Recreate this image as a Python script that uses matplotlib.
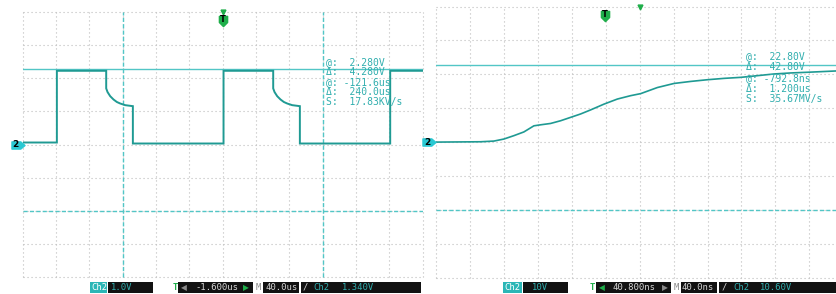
import matplotlib
matplotlib.use("Agg")
import matplotlib.pyplot as plt
import matplotlib.transforms as mtrans
from matplotlib.path import Path
from matplotlib.patches import Rectangle

# ---------------- data ----------------
# Left capture: Ch2 1.0 V/div, 40 us/div, trigger offset -1.6 us (time relative to trigger)
left_t_us = [-241.6, -200.6, -200.6, -141.4, -141.4, -139.8, -136.6, -132.6, -128.6,
             -124.6, -118.6, -109.4, -109.4, -0.6, -0.6, 59.0, 59.0, 60.6, 63.8, 67.8,
             71.8, 75.8, 81.8, 91.0, 91.0, 199.4, 199.4, 238.4]
left_v = [0.06, 0.06, 2.22, 2.22, 1.69, 1.58, 1.455, 1.355, 1.28,
          1.235, 1.185, 1.155, 0.03, 0.03, 2.22, 2.22, 1.69, 1.58, 1.455, 1.355,
          1.28, 1.235, 1.185, 1.155, 0.03, 0.03, 2.22, 2.22]
left_cursor_v = [2.28, -2.0]          # @ 2.280V, delta 4.280V
left_cursor_t = [-121.6, 118.4]       # @ -121.6us, delta 240.0us
left_meas = ["@:  2.280V", "Δ:  4.280V", "@: -121.6us", "Δ:  240.0us", "S:  17.83KV/s"]

# Right capture: Ch2 10 V/div, 40 ns/div, trigger offset 40.8 ns
right_t_ns = [-199.3, -146.8, -131.1, -119.3, -107.5, -95.7, -83.9, -76.0, -64.2, -52.4,
              -40.6, -28.8, -17.0, -1.3, 14.5, 30.2, 42.0, 61.7, 81.3, 101.0,
              120.7, 140.3, 160.0, 179.7, 199.3, 219.0, 238.7, 273.7]
right_v = [0.0, 0.1, 0.3, 0.9, 1.9, 3.0, 4.8, 5.1, 5.5, 6.3,
           7.3, 8.3, 9.5, 11.2, 12.7, 13.7, 14.3, 16.1, 17.3, 17.9,
           18.4, 18.8, 19.1, 19.6, 20.1, 20.4, 20.6, 21.0]
right_cursor_v = [22.8, -20.0]
right_meas = ["@:  22.80V", "Δ:  42.80V", "@: -792.8ns", "Δ:  1.200us", "S:  35.67MV/s"]

# ---------------- style ----------------
W, H = 836, 294
GRID = "#bdbdbd"
CUR = "#52c6c6"
TRACE = "#1f9a93"
TXT = "#30aeae"
GREEN = "#1fae4a"
CYAN = "#29c8d2"
MONO = "DejaVu Sans Mono"

fig = plt.figure(figsize=(W / 100, H / 100), dpi=100)
fig.patch.set_facecolor("white")


def px_axes(x0, x1, y0, y1):
    return fig.add_axes([x0 / W, (H - y1) / H, (x1 - x0) / W, (y1 - y0) / H])


axL = px_axes(22.7, 422.7, 11.7, 277.3)
axR = px_axes(436, 842, 6.5, 277.7)

T_PATH = Path([(-0.8, 1), (0.8, 1), (0.8, -0.2), (0, -1), (-0.8, -0.2), (-0.8, 1)],
              [Path.MOVETO, Path.LINETO, Path.LINETO, Path.LINETO, Path.LINETO, Path.CLOSEPOLY])
CH_PATH = Path([(-1, 0.55), (0.35, 0.55), (1, 0), (0.35, -0.55), (-1, -0.55), (-1, 0.55)],
               [Path.MOVETO, Path.LINETO, Path.LINETO, Path.LINETO, Path.LINETO, Path.CLOSEPOLY])


def setup(ax, xlim, ydiv, xdiv, center):
    ax.set_axis_off()
    ax.set_xlim(*xlim)
    ax.set_ylim(-4 * ydiv, 4 * ydiv)
    for i in range(-6, 7):
        ax.axvline(center + i * xdiv, color=GRID, lw=0.8, ls=(0, (1, 2.6)), zorder=1, clip_on=False)
    for j in range(-4, 5):
        ax.axhline(j * ydiv, color=GRID, lw=0.8, ls=(0, (1, 2.6)), zorder=1, clip_on=False)


# ---- left panel ----
setup(axL, (-241.6, 238.4), 1.0, 40.0, -1.6)
axL.axhline(left_cursor_v[0], color=CUR, lw=1.0, zorder=2)
axL.axhline(left_cursor_v[1], color=CUR, lw=1.0, ls=(0, (3, 1.6)), zorder=2)
for t in left_cursor_t:
    axL.axvline(t, color=CUR, lw=1.0, ls=(0, (3, 1.6)), zorder=2, clip_on=False)
axL.plot(left_t_us, left_v, color=TRACE, lw=1.4, zorder=3, solid_joinstyle="miter")

# ---- right panel ----
setup(axR, (-199.3, 279.3), 10.0, 40.0, 40.8)
axR.axhline(right_cursor_v[0], color=CUR, lw=1.0, zorder=2)
axR.axhline(right_cursor_v[1], color=CUR, lw=1.0, ls=(0, (3, 1.6)), zorder=2)
axR.plot(right_t_ns, right_v, color=TRACE, lw=1.2, zorder=3)

# ---- trigger markers ----
for ax, tpos, cen in [(axL, -1.6, -1.6), (axR, 0.0, 40.8)]:
    tr = ax.get_xaxis_transform()
    ax.plot([tpos], [0.966], marker=T_PATH, ms=7.4, color=GREEN, transform=tr,
            clip_on=False, ls="none", zorder=6)
    ax.text(tpos, 0.972, "T", transform=tr, ha="center", va="center", fontsize=6,
            fontweight="bold", family="DejaVu Sans", color="black", zorder=7)
    ax.plot([cen], [1.0], marker="v", ms=3.5, color=GREEN, transform=tr,
            clip_on=False, ls="none", zorder=6)

# ---- channel ground markers ----
for ax, xp in [(axL, 17.5), (axR, 429.0)]:
    tr = mtrans.blended_transform_factory(fig.transFigure, ax.transData)
    ax.plot([xp / W], [0], marker=CH_PATH, ms=9.4, color=CYAN, transform=tr,
            clip_on=False, ls="none", zorder=6)
    ax.text((xp - 2) / W, 0, "2", transform=tr, ha="center", va="center", fontsize=6.5,
            fontweight="bold", family="DejaVu Sans", color="black", zorder=7)

# ---- measurement readouts ----
for i, s in enumerate(left_meas):
    fig.text(326 / W, (H - (62.3 + i * 9.85)) / H, s, family=MONO, fontsize=7,
             color=TXT, va="center", ha="left")
for i, s in enumerate(right_meas):
    fig.text(746 / W, (H - (56.5 + i * 10.7)) / H, s, family=MONO, fontsize=7,
             color=TXT, va="center", ha="left")

# ---- bottom status bars ----
BY0, BY1 = 281.7, 293.3
BYC = (H - (BY0 + BY1) / 2) / H


def box(x0, x1, color):
    fig.patches.append(Rectangle((x0 / W, (H - BY1) / H), (x1 - x0) / W, (BY1 - BY0) / H,
                                 transform=fig.transFigure, facecolor=color, edgecolor="none",
                                 zorder=1))


def label(x, s, color, size=6.4, family=MONO, weight="normal"):
    fig.text(x / W, BYC, s, family=family, fontsize=size, color=color, va="center",
             ha="left", fontweight=weight, zorder=3)


BLACK = "#121212"
LGRAY = "#d6d6d6"
MGRAY = "#8a8a8a"

# left bar
box(90, 106.7, "#2bb6b6"); label(91, "Ch2", "white")
box(108.3, 152.7, BLACK); label(111, "1.0V", TXT)
label(173, "T", GREEN, weight="bold")
box(178, 252.7, BLACK)
label(181, "◀", MGRAY, size=5.5, family="DejaVu Sans")
label(195, "-1.600us", LGRAY)
label(243, "▶", GREEN, size=5.5, family="DejaVu Sans")
label(256, "M", MGRAY)
box(263, 298.5, BLACK); label(265, "40.0us", LGRAY)
box(300.5, 420.5, BLACK); label(303, "/", LGRAY); label(313, "Ch2", TXT); label(341.5, "1.340V", TXT)

# right bar
box(503, 521.7, "#2bb6b6"); label(504, "Ch2", "white")
box(523, 568.3, BLACK); label(531.5, "10V", TXT)
label(590, "T", GREEN, weight="bold")
box(596, 670.7, BLACK)
label(599, "◀", GREEN, size=5.5, family="DejaVu Sans")
label(612.5, "40.800ns", LGRAY)
label(662, "▶", MGRAY, size=5.5, family="DejaVu Sans")
label(674, "M", MGRAY)
box(680.5, 716.7, BLACK); label(682, "40.0ns", LGRAY)
box(718.5, 836, BLACK); label(721.5, "/", LGRAY); label(733, "Ch2", TXT); label(760, "10.60V", TXT)

fig.savefig("out.png", dpi=100, facecolor="white")
